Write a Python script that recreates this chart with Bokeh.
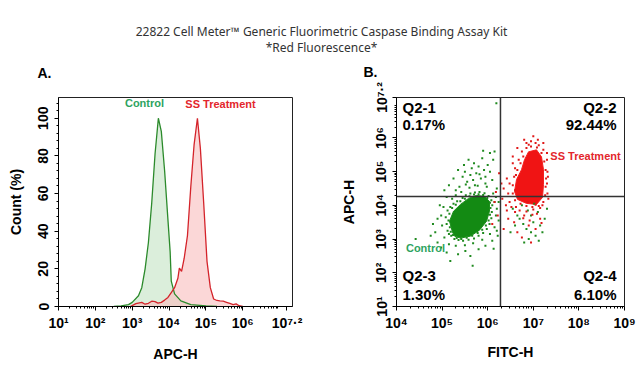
from bokeh.plotting import figure
from bokeh.layouts import column, row
from bokeh.models import Range1d, FixedTicker, CustomJSTickFormatter, Label, Span
from bokeh.embed import file_html
from bokeh.resources import INLINE

# ---------------- data ----------------
TITLE_1 = "22822 Cell Meter™ Generic Fluorimetric Caspase Binding Assay Kit"
TITLE_2 = "*Red Fluorescence*"
PANEL_TAGS = ["A.", "B."]

# Panel A: histogram, x given as log10(APC-H), y = Count (%)
ctrl_log = [2.5, 2.7, 2.9, 3.0, 3.17, 3.26, 3.35, 3.44, 3.53, 3.62, 3.71, 3.79, 3.88,
            3.97, 4.03, 4.06, 4.15, 4.32, 4.59, 5.0, 5.3]
ctrl_cnt = [0, 0.3, 1.0, 2.2, 5.7, 10, 20, 34, 55, 81, 100, 93, 72,
            46, 29, 13.5, 6.7, 3, 1, 0.3, 0]
ss_log = [2.95, 3.0, 3.1, 3.26, 3.35, 3.44, 3.53, 3.62, 3.7, 3.79, 3.88, 3.97, 4.06,
          4.15, 4.24, 4.28, 4.34, 4.41, 4.50, 4.59, 4.68, 4.77, 4.85, 4.94, 5.03,
          5.12, 5.21, 5.3, 5.38, 5.47, 5.56, 5.65, 5.74, 5.82, 5.9, 6.0]
ss_cnt = [0, 0.5, 1.5, 2.2, 1.2, 1.7, 2.8, 2.6, 1.8, 2.2, 3.4, 4.8, 7.4,
          10, 15, 20.4, 18.6, 25.5, 37.7, 63.6, 86, 100, 84, 55, 24,
          10, 4, 3.2, 3.0, 2.8, 2.2, 1.6, 1.0, 1.4, 0.4, 0]

A_x_ticks = [1, 2, 3, 4, 5, 6, 7.2]          # log10 tick values
A_y_ticks = [0, 20, 40, 60, 80, 100]

# Panel B: dot plot, log10(FITC-H) vs log10(APC-H)
gate_x_log = 6.28
gate_y_log = 4.26
B_x_ticks = [4, 5, 6, 7, 8, 9]
B_y_ticks = [1, 2, 3, 4, 5, 6, 7.2]
quad_names = ["Q2-1", "Q2-2", "Q2-3", "Q2-4"]
quad_pcts = ["0.17%", "92.44%", "1.30%", "6.10%"]

green_core_lx = [5.228, 5.162, 5.250, 5.404, 5.579, 5.754, 5.930, 6.039, 6.039, 5.974,
                 5.820, 5.623, 5.404, 5.272]
green_core_ly = [3.206, 3.529, 3.824, 4.029, 4.206, 4.294, 4.265, 4.118, 3.824, 3.529,
                 3.265, 3.088, 3.029, 3.088]
red_core_lx = [6.895, 7.070, 7.180, 7.224, 7.224, 7.202, 7.070, 6.851, 6.654, 6.588,
               6.632, 6.741, 6.807]
red_core_ly = [5.588, 5.647, 5.441, 5.059, 4.618, 4.235, 4.029, 4.059, 4.176, 4.412,
               4.765, 5.059, 5.353]

green_dot_lx = [5.12, 5.10, 5.08, 5.12, 5.18, 5.25, 5.33, 5.45, 5.52, 5.62, 5.72, 5.82, 5.93,
                6.02, 6.08, 6.10, 6.09, 6.08, 6.04, 5.98, 5.90, 5.80, 5.70, 5.58, 5.46, 5.36,
                5.27, 5.20, 5.15,
                5.00, 4.98, 5.03, 5.05, 5.15, 5.30, 5.50, 5.68, 5.88, 6.05, 6.15, 6.18, 6.15,
                6.12, 5.98, 5.78, 5.60, 5.42, 5.30, 5.22,
                5.55, 5.68, 5.85, 5.75, 5.62, 5.92, 5.50, 5.80, 5.70, 6.00, 5.88, 6.05, 5.45,
                5.38, 6.10, 6.20, 5.95,
                4.42, 5.18, 5.51, 5.67, 6.13, 4.85, 4.90, 6.22, 6.20, 6.19,
                6.55, 6.70, 6.85, 7.00, 7.10, 7.20, 6.90, 6.75, 7.05, 6.95, 7.25, 6.60, 6.80,
                7.15, 6.88, 7.02, 6.65, 7.30, 6.95, 6.78, 7.12, 6.50,
                5.05, 5.15, 5.25, 5.35, 5.48, 5.58, 5.65, 5.72, 5.82, 5.95, 6.05, 6.12, 6.15,
                5.90, 5.52, 5.30, 5.10, 4.95, 4.90, 4.80, 4.75, 4.98, 5.10, 5.35, 5.62, 5.80,
                5.95, 6.10, 6.20, 6.24, 6.24, 6.18,
                5.17, 5.14, 5.16, 5.22, 5.30, 5.40, 5.50, 5.60, 5.70, 5.80, 5.90, 5.99, 6.05,
                6.06, 6.05, 6.02, 5.96, 5.88, 5.78, 5.66, 5.54, 5.42, 5.32, 5.24, 5.19]
green_dot_ly = [3.25, 3.45, 3.65, 3.85, 3.95, 4.05, 4.12, 4.22, 4.30, 4.35, 4.38, 4.40, 4.36,
                4.28, 4.15, 4.00, 3.80, 3.62, 3.45, 3.30, 3.18, 3.10, 3.02, 2.98, 2.95, 2.97,
                3.00, 3.10, 3.15,
                3.40, 3.70, 3.95, 3.05, 2.85, 2.80, 2.82, 2.88, 2.98, 3.15, 3.35, 3.70, 4.10,
                4.35, 4.55, 4.58, 4.52, 4.40, 4.30, 4.20,
                4.70, 4.75, 4.80, 4.95, 4.90, 5.05, 5.00, 5.15, 5.25, 5.20, 5.40, 5.55, 4.85,
                4.55, 4.75, 4.50, 4.65,
                3.00, 2.35, 2.65, 2.21, 2.71, 3.20, 2.90, 3.10, 3.90, 7.03,
                3.90, 3.60, 3.30, 3.50, 3.80, 3.20, 3.00, 4.00, 3.10, 3.70, 3.60, 3.40, 2.90,
                3.40, 3.85, 4.05, 3.70, 3.90, 3.20, 3.45, 2.95, 3.20,
                4.45, 4.60, 4.80, 5.05, 5.20, 5.35, 5.10, 4.60, 4.92, 4.85, 5.00, 5.35, 5.60,
                5.62, 4.62, 4.45, 4.25, 4.00, 3.60, 3.45, 3.10, 2.75, 2.60, 2.55, 2.50, 2.70,
                2.80, 2.95, 3.25, 3.55, 4.10, 4.25,
                3.35, 3.55, 3.75, 3.92, 4.02, 4.12, 4.20, 4.27, 4.32, 4.33, 4.31, 4.22, 4.08,
                3.92, 3.72, 3.55, 3.40, 3.28, 3.18, 3.10, 3.04, 3.00, 3.03, 3.12, 3.22]

red_dot_lx = [6.85, 6.95, 7.08, 7.18, 7.24, 7.27, 7.28, 7.27, 7.26, 7.22, 7.12, 6.98, 6.85,
              6.72, 6.60, 6.55, 6.55, 6.58, 6.65, 6.72, 6.78,
              6.95, 7.05, 7.12, 6.85, 7.22, 6.75, 7.30, 6.68, 7.31, 6.60, 7.30, 6.48, 6.45,
              7.31, 6.48, 6.40, 6.35, 6.32, 6.55, 6.62,
              6.60, 6.80, 7.00, 7.15, 6.90, 6.65, 6.45, 6.35, 7.05, 6.75, 6.95, 6.52, 7.20,
              6.88, 6.70, 7.08, 6.42, 6.92, 6.58,
              6.15, 6.22, 6.10, 6.18, 6.25,
              6.80, 7.00, 7.10, 6.90, 7.22, 6.65, 6.55, 7.30, 7.32, 7.33, 6.42, 6.30, 6.60,
              6.98, 7.15, 6.78, 7.05, 6.62, 6.85, 7.18]
red_dot_ly = [5.70, 5.75, 5.72, 5.55, 5.30, 5.05, 4.80, 4.55, 4.30, 4.10, 3.98, 3.95, 3.98,
              4.05, 4.15, 4.35, 4.60, 4.85, 5.05, 5.25, 5.45,
              5.90, 5.85, 5.78, 5.85, 5.65, 5.60, 5.35, 5.35, 5.00, 5.10, 4.65, 4.65, 4.35,
              4.35, 4.10, 4.00, 4.50, 4.20, 5.25, 4.90,
              3.80, 3.70, 3.88, 3.60, 3.40, 3.20, 3.60, 3.30, 3.30, 3.05, 2.90, 3.95, 4.00,
              4.10, 3.85, 3.75, 3.85, 3.55, 3.50,
              4.10, 3.70, 3.45, 4.40, 4.95,
              5.95, 6.05, 5.95, 5.80, 5.85, 5.70, 5.45, 5.55, 4.85, 4.20, 4.80, 4.65, 4.45,
              3.72, 3.92, 3.62, 4.02, 3.95, 3.82, 3.48]

# ---------------- helpers ----------------
FONT = "Liberation Sans"
GREEN_LINE = "#2b8a2b"
RED_LINE = "#d4232a"
GREEN_TXT = "#2ea35f"
RED_TXT = "#e3262c"

sup_js = """
const sup = {"0":"\u2070","1":"\u00b9","2":"\u00b2","3":"\u00b3","4":"\u2074","5":"\u2075",
             "6":"\u2076","7":"\u2077","8":"\u2078","9":"\u2079",".":"\u00b7"};
const e = Math.round(Math.log10(tick) * 10) / 10;
return "10" + String(e).split("").map(c => sup[c]).join("");
"""


def pw(vals):
    return [10 ** v for v in vals]


def log_minor(lo, hi):
    out = []
    for d in range(int(lo), int(hi) + 1):
        for k in range(2, 10):
            v = k * 10 ** d
            if 10 ** lo < v < 10 ** hi:
                out.append(v)
    return out


def style(p):
    p.grid.visible = False
    p.outline_line_color = "#222222"
    p.outline_line_width = 1
    p.background_fill_color = "white"
    p.border_fill_color = "white"
    for ax in p.axis:
        ax.axis_line_color = "black"
        ax.axis_line_width = 1
        ax.major_tick_line_color = "black"
        ax.minor_tick_line_color = "black"
        ax.major_tick_out = 4
        ax.major_tick_in = 0
        ax.minor_tick_out = 2
        ax.minor_tick_in = 0
        ax.major_label_text_font = FONT
        ax.major_label_text_font_style = "bold"
        ax.major_label_text_font_size = "14px"
        ax.major_label_text_color = "black"
        ax.axis_label_text_font = FONT
        ax.axis_label_text_font_style = "bold"
        ax.axis_label_text_font_size = "14px"
        ax.axis_label_text_color = "black"


def lab(p, text, x, y, size="11px", color="black", align="left", font=FONT, style_="bold"):
    p.add_layout(Label(x=x, y=y, x_units="screen", y_units="screen", text=text,
                       text_font=font, text_font_style=style_, text_font_size=size,
                       text_color=color, text_align=align, text_baseline="middle"))


# ---------------- title strip (also holds the panel tags) ----------------
t = figure(width=640, height=80, toolbar_location=None, output_backend="svg",
           x_range=(0, 1), y_range=(0, 1), x_axis_location=None, y_axis_location=None,
           min_border=0)
t.grid.visible = False
t.outline_line_color = None
lab(t, TITLE_1, 321, 49, size="12px", color="#333333", align="center", font="Noto Sans", style_="normal")
lab(t, TITLE_2, 321, 33, size="12px", color="#333333", align="center", font="Noto Sans", style_="normal")
lab(t, PANEL_TAGS[0], 44, 8, size="14px", align="center")
lab(t, PANEL_TAGS[1], 370, 9, size="14px", align="center")

# ---------------- panel A ----------------
pa = figure(width=320, height=286, toolbar_location=None, output_backend="svg",
            x_axis_type="log", x_range=Range1d(10 ** 1, 10 ** 7.35), y_range=Range1d(0, 111),
            min_border_left=58, min_border_right=28, min_border_top=12, min_border_bottom=60)
style(pa)
cx = pw(ctrl_log)
sx = pw(ss_log)
pa.varea(x=cx, y1=[0] * len(cx), y2=ctrl_cnt, fill_color="#cfe8cf", fill_alpha=0.75)
pa.varea(x=sx, y1=[0] * len(sx), y2=ss_cnt, fill_color="#f9bcbc", fill_alpha=0.6)
pa.line(x=cx, y=ctrl_cnt, line_color=GREEN_LINE, line_width=1.3)
pa.line(x=sx, y=ss_cnt, line_color=RED_LINE, line_width=1.3)
pa.xaxis.ticker = FixedTicker(ticks=pw(A_x_ticks), minor_ticks=log_minor(1, 7.2))
pa.xaxis.formatter = CustomJSTickFormatter(code=sup_js)
pa.yaxis.ticker = FixedTicker(ticks=A_y_ticks, minor_ticks=[v for v in range(0, 111, 4) if v % 20])
pa.yaxis.major_label_orientation = "vertical"
pa.xaxis.axis_label = "APC-H"
pa.yaxis.axis_label = "Count (%)"
pa.xaxis.major_label_standoff = 4
pa.xaxis.axis_label_standoff = 12
pa.yaxis.major_label_standoff = 6
pa.yaxis.axis_label_standoff = 12
lab(pa, "Control", 86, 204, size="11px", color=GREEN_TXT, align="center")
lab(pa, "SS Treatment", 162, 203, size="11px", color=RED_TXT, align="center")

# ---------------- panel B ----------------
pb = figure(width=320, height=286, toolbar_location=None, output_backend="svg",
            x_axis_type="log", y_axis_type="log",
            x_range=Range1d(10 ** 4, 10 ** 9), y_range=Range1d(10 ** 1, 10 ** 7.2),
            min_border_left=76, min_border_right=16, min_border_top=17, min_border_bottom=58)
style(pb)
pb.patch(x=pw(green_core_lx), y=pw(green_core_ly), fill_color="#138a13", line_color="#1a8f1a", line_width=1)
pb.patch(x=pw(red_core_lx), y=pw(red_core_ly), fill_color="#f01414", line_color="#f52020", line_width=1)
pb.scatter(x=pw(green_dot_lx), y=pw(green_dot_ly), marker="square", size=2.0,
           fill_color="#1f8a1f", line_color=None)
pb.scatter(x=pw(red_dot_lx), y=pw(red_dot_ly), marker="square", size=2.0,
           fill_color="#e01818", line_color=None)
pb.add_layout(Span(location=10 ** gate_x_log, dimension="height", line_color="#333333", line_width=1.5))
pb.add_layout(Span(location=10 ** gate_y_log, dimension="width", line_color="#333333", line_width=1.5))
pb.xaxis.ticker = FixedTicker(ticks=pw(B_x_ticks), minor_ticks=log_minor(4, 9))
pb.yaxis.ticker = FixedTicker(ticks=pw(B_y_ticks), minor_ticks=log_minor(1, 7.2))
pb.xaxis.formatter = CustomJSTickFormatter(code=sup_js)
pb.yaxis.formatter = CustomJSTickFormatter(code=sup_js)
pb.yaxis.major_label_orientation = "vertical"
pb.xaxis.axis_label = "FITC-H"
pb.yaxis.axis_label = "APC-H"
pb.xaxis.major_label_standoff = 4
pb.xaxis.axis_label_standoff = 10
pb.yaxis.major_label_standoff = 3
pb.yaxis.axis_label_standoff = 14
lab(pb, quad_names[0], 6, 199, size="15px")
lab(pb, quad_pcts[0], 6, 182, size="15px")
lab(pb, quad_names[1], 220, 199, size="15px", align="right")
lab(pb, quad_pcts[1], 220, 182, size="15px", align="right")
lab(pb, quad_names[2], 6, 31, size="15px")
lab(pb, quad_pcts[2], 6, 12, size="15px")
lab(pb, quad_names[3], 220, 31, size="15px", align="right")
lab(pb, quad_pcts[3], 220, 12, size="15px", align="right")
lab(pb, "SS Treatment", 189, 151, size="11px", color=RED_TXT, align="center")
lab(pb, "Control", 29, 59, size="11px", color=GREEN_TXT, align="center")

layout = column(t, row(pa, pb))
open("out.html", "w").write(file_html(layout, INLINE))
